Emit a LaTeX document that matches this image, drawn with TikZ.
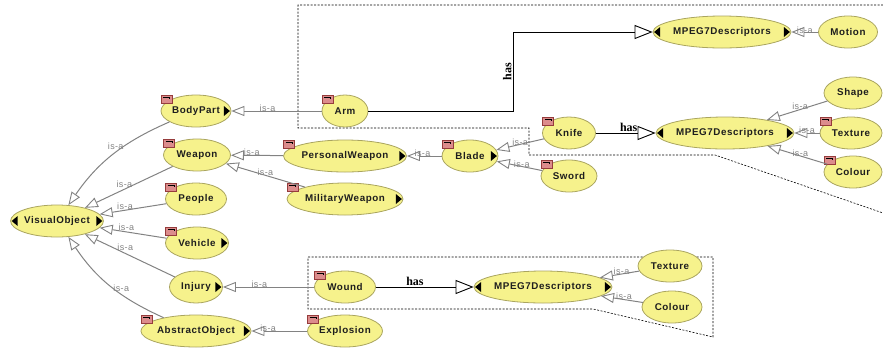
\documentclass[tikz,border=0pt]{standalone}
\usepackage{fontspec}
\setmainfont{Liberation Sans}
\newfontfamily\nodefont[LetterSpace=6]{Liberation Sans}
\newfontfamily\labfont[LetterSpace=4]{Liberation Sans}
\newfontfamily\hasfont{Liberation Serif}
\usetikzlibrary{shapes.geometric,arrows.meta,calc}
\definecolor{ellfill}{RGB}{246,242,140}
\definecolor{elldraw}{RGB}{170,165,95}
\definecolor{markfill}{RGB}{220,140,140}
\definecolor{markdraw}{RGB}{150,60,60}
\definecolor{isagray}{RGB}{130,130,130}
\definecolor{txt}{RGB}{30,30,30}
\tikzset{
  cls/.style={ellipse, draw=elldraw, fill=ellfill, line width=0.8pt, inner sep=0pt,
    minimum width=#1, minimum height=32pt, font=\nodefont\fontsize{9.8}{11}\selectfont\bfseries, text=txt},
  isa/.style={draw=isagray, line width=1pt, -{Triangle[open, length=13pt, width=10pt, line width=0.9pt]}},
  isalab/.style={font=\labfont\fontsize{9}{10}\selectfont, text=isagray, inner sep=1pt},
  has/.style={draw=black, line width=0.9pt, -{Triangle[open, length=18pt, width=14pt, line width=0.9pt]}},
  haslab/.style={font=\hasfont\fontsize{12}{13}\selectfont\bfseries, inner sep=1pt},
  boxline/.style={draw=black, dashed, dash pattern=on 2pt off 1.5pt, line width=0.6pt},
  markbox/.style={draw=markdraw, fill=markfill, line width=0.4pt, minimum width=11pt, minimum height=8pt, inner sep=0pt, anchor=north west},
}
\newcommand{\mymark}[1]{%
  \node[markbox] (#1-mk) at (#1.west |- #1.north) {};
  \draw[black, line width=0.9pt] ($(#1-mk.north west)+(2.5pt,-2.5pt)$) -- ($(#1-mk.north east)+(-2.5pt,-2.5pt)$) -- ++(0,-2.2pt);}
\newcommand{\rtri}[1]{%
  \fill[black] ($(#1.east)+(-7.5pt,5pt)$) -- ($(#1.east)+(-1.5pt,0)$) -- ($(#1.east)+(-7.5pt,-5pt)$) -- cycle;}
\newcommand{\ltri}[1]{%
  \fill[black] ($(#1.west)+(7.5pt,5pt)$) -- ($(#1.west)+(1.5pt,0)$) -- ($(#1.west)+(7.5pt,-5pt)$) -- cycle;}
\begin{document}
\begin{tikzpicture}[x=1pt,y=-1pt]
\useasboundingbox (0,0) rectangle (883,349);
% dashed regions
\draw[boxline] (883,5) -- (298,5) -- (298,128) -- (529,128) -- (529,155) -- (715,155) -- (883,213);
\draw[boxline] (308,257) -- (713,257) -- (713,337) -- (593,309) -- (308,309) -- cycle;

% nodes
\node[cls=90] (VO) at (57,221) {VisualObject};
\node[cls=70] (BP) at (196,111) {BodyPart};
\node[cls=67] (WE) at (197,155) {Weapon};
\node[cls=61] (PE) at (196,199) {People};
\node[cls=63] (VE) at (197,243) {Vehicle};
\node[cls=53] (IN) at (196,287) {Injury};
\node[cls=102] (AO) at (196,331) {AbstractObject};
\node[cls=46] (AR) at (345,111) {Arm};
\node[cls=115] (PW) at (345,156) {PersonalWeapon};
\node[cls=116] (MW) at (345,199) {MilitaryWeapon};
\node[cls=61] (WO) at (345,287) {Wound};
\node[cls=75] (EX) at (345,331) {Explosion};
\node[cls=56] (BL) at (470,156) {Blade};
\node[cls=53] (KN) at (569,133) {Knife};
\node[cls=56] (SW) at (569,176) {Sword};
\node[cls=121] (M1) at (722,32) {MPEG7Descriptors};
\node[cls=59] (MO) at (848,32) {Motion};
\node[cls=121] (M2) at (725,133) {MPEG7Descriptors};
\node[cls=58] (SH) at (853,93) {Shape};
\node[cls=62] (TX) at (851,133) {Texture};
\node[cls=58] (CO) at (853,172) {Colour};
\node[cls=123] (M3) at (543,287) {MPEG7Descriptors};
\node[cls=64] (TX3) at (670,266) {Texture};
\node[cls=60] (CO3) at (672,307) {Colour};

% red markers
\foreach \n in {BP,WE,PE,VE,AO,AR,PW,MW,WO,EX,BL,KN,SW,TX,CO} {\mymark{\n}}
% expand triangles
\foreach \n in {VO,BP,VE,IN,AO,PW,MW,BL,M1,M2,M3} {\rtri{\n}}
\foreach \n in {VO,M1,M2,M3} {\ltri{\n}}

% is-a edges
\draw[isa] (BP) to[bend right=16] node[isalab, pos=0.4, above left=-3pt] {is-a} (VO);
\draw[isa] (WE) -- node[isalab, pos=0.55, above=0pt] {is-a} (VO);
\draw[isa] (PE) -- node[isalab, pos=0.62, above=-1pt] {is-a} (VO);
\draw[isa] (VE) -- node[isalab, pos=0.6, above=0pt] {is-a} (VO);
\draw[isa] (IN) -- node[isalab, pos=0.55, above=1pt] {is-a} (VO);
\draw[isa] (AO) to[bend left=16] node[isalab, pos=0.45, right=-2pt] {is-a} (VO);
\draw[isa] (AR) -- node[isalab, pos=0.6, above=-2pt] {is-a} (BP);
\draw[isa] (PW) -- node[isalab, pos=0.6, above=-2pt] {is-a} (WE);
\draw[isa] (MW) -- node[isalab, pos=0.5, above=-2pt] {is-a} (WE);
\draw[isa] (WO) -- node[isalab, pos=0.6, above=-2pt] {is-a} (IN);
\draw[isa] (EX) -- node[isalab, pos=0.7, above=-2pt] {is-a} (AO);
\draw[isa] (BL) -- node[isalab, pos=0.55, above=-2pt] {is-a} (PW);
\draw[isa] (KN) -- node[isalab, pos=0.5, above=-3pt] {is-a} (BL);
\draw[isa] (SW) -- node[isalab, pos=0.45, above=-3pt] {is-a} (BL);
\draw[isa] (MO) -- node[isalab, pos=0.5, above=-3pt] {is-a} (M1);
\draw[isa] (SH) -- node[isalab, pos=0.45, above=-2pt] {is-a} (M2);
\draw[isa] (TX) -- node[isalab, pos=0.5, above=-2pt] {is-a} (M2);
\draw[isa] (CO) -- node[isalab, pos=0.45, above=-2pt] {is-a} (M2);
\draw[isa] (TX3) -- node[isalab, pos=0.45, above=-2pt] {is-a} (M3);
\draw[isa] (CO3) -- node[isalab, pos=0.45, above=-2pt] {is-a} (M3);

% has edges
\coordinate (armbend) at (513,32);
\draw[has] (AR.east) -| node[haslab, pos=0.75, rotate=90, anchor=south] {has} (armbend) -- (M1.west);
\draw[has] (KN.east) -- node[haslab, pos=0.55, above=0pt] {has} (M2.west);
\draw[has] (WO.east) -- node[haslab, pos=0.4, above=0pt] {has} (M3.west);
\end{tikzpicture}
\end{document}
